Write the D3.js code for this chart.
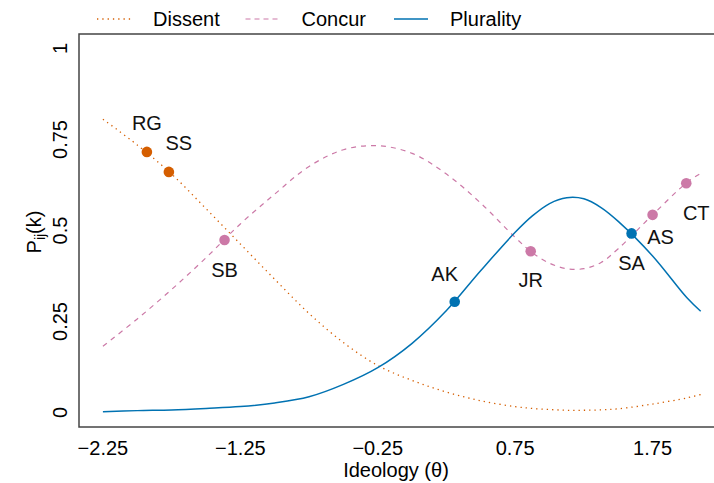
<!DOCTYPE html>
<html>
<head>
<meta charset="utf-8">
<script src="https://cdn.jsdelivr.net/npm/d3@7/dist/d3.min.js"></script>
<style>
  html, body { margin: 0; padding: 0; background: #fff; }
  svg { display: block; font-family: "Liberation Sans", Arial, Helvetica, sans-serif; }
</style>
</head>
<body>
<svg id="chart" width="714" height="483"></svg>
<script>
// ideology grid (denser round the peaks)
const theta = [-2.25, -2.0, -1.75, -1.5, -1.25, -1.0, -0.75, -0.5, -0.25, 0.0,
               0.25, 0.5, 0.75, 0.875, 1.0, 1.125, 1.25, 1.375, 1.5, 1.75, 2.0, 2.1];
const dissent = [0.806, 0.735, 0.655, 0.560, 0.463, 0.366, 0.272, 0.192, 0.129, 0.088,
                 0.056, 0.032, 0.016, 0.011, 0.008, 0.006, 0.006, 0.007, 0.010, 0.023, 0.040, 0.049];
const concur = [0.182, 0.257, 0.338, 0.425, 0.518, 0.600, 0.676, 0.722, 0.733, 0.712,
                0.655, 0.575, 0.481, 0.439, 0.410, 0.395, 0.395, 0.412, 0.450, 0.543, 0.632, 0.657];
const plurality = [0.002, 0.005, 0.007, 0.011, 0.016, 0.026, 0.043, 0.077, 0.123, 0.190,
                   0.280, 0.390, 0.495, 0.540, 0.574, 0.590, 0.587, 0.563, 0.525, 0.430, 0.315, 0.278];

// justices
const justices = ['RG', 'SS', 'SB', 'AK', 'JR', 'SA', 'AS', 'CT'];
const justiceTheta = [-1.93, -1.77, -1.365, 0.31, 0.863, 1.597, 1.75, 1.995];
const justiceProb = [0.716, 0.661, 0.474, 0.304, 0.443, 0.492, 0.543, 0.630];
const justiceVote = ['Dissent', 'Dissent', 'Concur', 'Plurality', 'Concur', 'Plurality', 'Concur', 'Concur'];

const yTicks = [0, 0.25, 0.5, 0.75, 1];
const yTickLabels = ['0', '0.25', '0.5', '0.75', '1'];
const xTicks = [-2.25, -1.25, -0.25, 0.75, 1.75];
const xTickLabels = ['\u22122.25', '\u22121.25', '\u22120.25', '0.75', '1.75'];

const colors = {Dissent: '#D55E00', Concur: '#CC79A7', Plurality: '#0072B2'};
const dashes = {Dissent: '1.3,4', Concur: '5,5', Plurality: null};

// hand placed label nudges (px), like text(pos=...) in the original
const labelNudge = {
  RG: [0, -29], SS: [10, -29], SB: [0, 30], AK: [-10, -28],
  JR: [0, 29], SA: [0, 30], AS: [8, 22], CT: [10, 30]
};

const svg = d3.select('#chart');

// R style 4% padding around the data range
const x = d3.scaleLinear().domain([-2.424, 2.274]).range([79, 724.6]);
const y = d3.scaleLinear().domain([-0.04, 1.04]).range([427, 34]);

// plot box (right edge runs off the page)
svg.append('rect')
  .attr('x', x.range()[0]).attr('y', y.range()[1])
  .attr('width', x.range()[1] - x.range()[0])
  .attr('height', y.range()[0] - y.range()[1])
  .attr('fill', 'none').attr('stroke', '#444').attr('stroke-width', 1.5);

// y tick labels, rotated like las=0
svg.append('g').selectAll('text')
  .data(yTicks)
  .join('text')
    .attr('transform', (d) => `translate(60,${y(d)}) rotate(-90)`)
    .attr('text-anchor', 'middle')
    .attr('dy', '0.35em')
    .attr('font-size', 20)
    .text((d, i) => yTickLabels[i]);

// x tick labels
svg.append('g').selectAll('text')
  .data(xTicks)
  .join('text')
    .attr('x', (d) => x(d))
    .attr('y', 448)
    .attr('text-anchor', 'middle')
    .attr('dy', '0.35em')
    .attr('font-size', 20)
    .text((d, i) => xTickLabels[i]);

// axis titles
svg.append('text')
  .attr('x', 396).attr('y', 470)
  .attr('text-anchor', 'middle').attr('dy', '0.35em')
  .attr('font-size', 20)
  .text('Ideology (\u03b8)');

const ylab = svg.append('text')
  .attr('transform', 'translate(35,232) rotate(-90)')
  .attr('text-anchor', 'middle').attr('dy', '0.3em')
  .attr('font-size', 20);
ylab.append('tspan').text('P');
ylab.append('tspan').attr('font-size', 14).attr('dy', 4).text('ij');
ylab.append('tspan').attr('dy', -4).text('(k)');

// curves
const series = [
  {name: 'Dissent', values: dissent, width: 1.3},
  {name: 'Concur', values: concur, width: 1.2},
  {name: 'Plurality', values: plurality, width: 1.5}
];

const line = d3.line()
  .x((d) => x(d[0]))
  .y((d) => y(d[1]))
  .curve(d3.curveCatmullRom.alpha(0.5));

svg.append('g').selectAll('path')
  .data(series)
  .join('path')
    .attr('d', (s) => line(theta.map((t, i) => [t, s.values[i]])))
    .attr('fill', 'none')
    .attr('stroke', (s) => colors[s.name])
    .attr('stroke-width', (s) => s.width)
    .attr('stroke-dasharray', (s) => dashes[s.name]);

// justices on their curves
const pts = justices.map((j, i) => ({
  name: j, t: justiceTheta[i], p: justiceProb[i], vote: justiceVote[i]
}));

svg.append('g').selectAll('circle')
  .data(pts)
  .join('circle')
    .attr('cx', (d) => x(d.t))
    .attr('cy', (d) => y(d.p))
    .attr('r', 5.3)
    .attr('fill', (d) => colors[d.vote]);

svg.append('g').selectAll('text')
  .data(pts)
  .join('text')
    .attr('x', (d) => x(d.t) + labelNudge[d.name][0])
    .attr('y', (d) => y(d.p) + labelNudge[d.name][1])
    .attr('text-anchor', 'middle')
    .attr('dy', '0.35em')
    .attr('font-size', 20)
    .attr('fill', '#111')
    .text((d) => d.name);

// legend across the top
const legend = svg.append('g').selectAll('g')
  .data(series)
  .join('g')
    .attr('transform', (d, i) => `translate(${97 + i * 148.5},19)`);

legend.append('line')
  .attr('x1', 0).attr('x2', 34)
  .attr('stroke', (d) => colors[d.name])
  .attr('stroke-width', (d) => d.width)
  .attr('stroke-dasharray', (d) => d.name === 'Concur' ? '5,4' : dashes[d.name]);

legend.append('text')
  .attr('x', 56)
  .attr('dy', '0.35em')
  .attr('font-size', 20)
  .text((d) => d.name);
</script>
</body>
</html>
